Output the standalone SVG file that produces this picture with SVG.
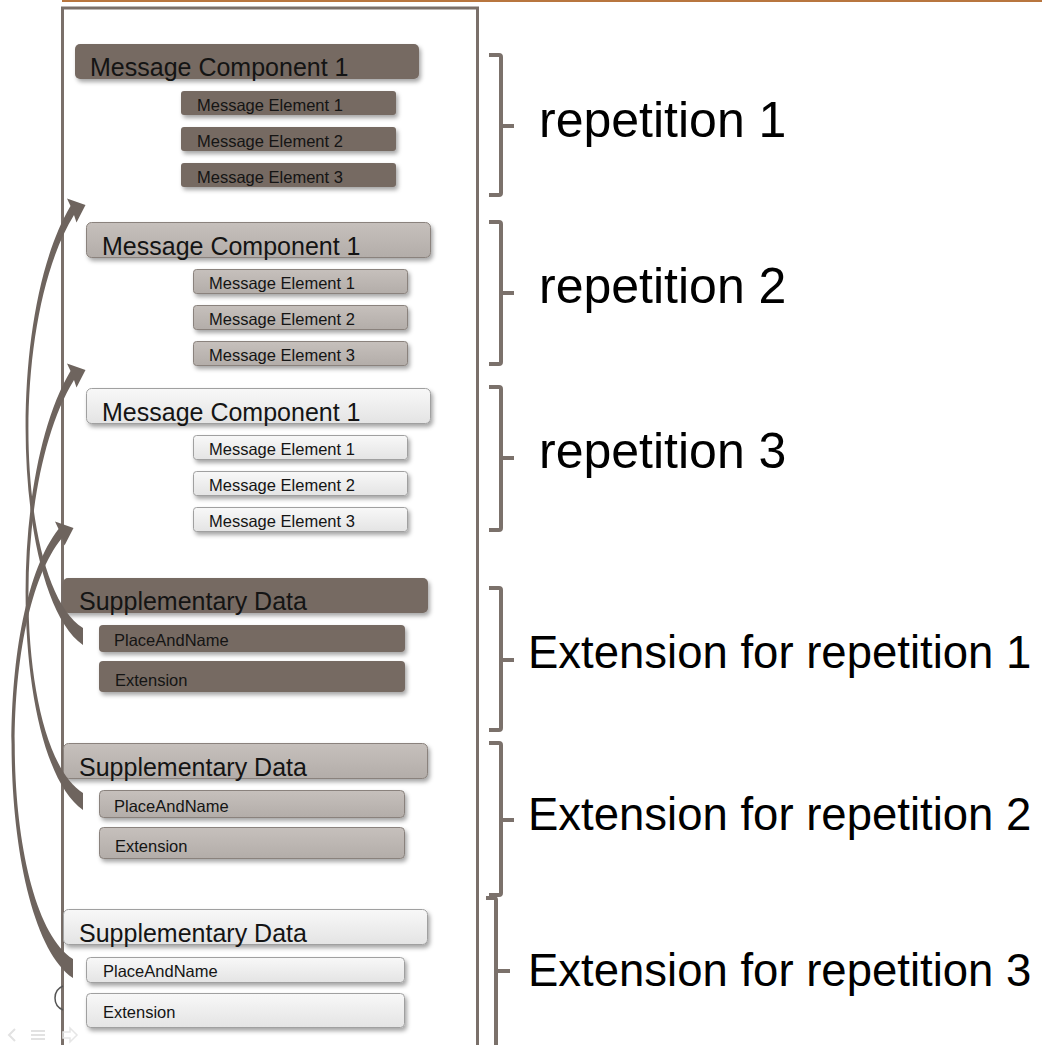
<svg xmlns="http://www.w3.org/2000/svg" width="1042" height="1045" viewBox="0 0 1042 1045">
<defs>
<style>
.dark{fill:#766a62;}
.mid{fill:url(#gMid);stroke:#8a827d;stroke-width:1;}
.light{fill:url(#gLight);stroke:#a0a0a0;stroke-width:1;}
.box{filter:url(#sh);}
.t25{font-family:"Liberation Sans",Arial,sans-serif;font-size:25px;fill:#141414;}
.t17{font-family:"Liberation Sans",Arial,sans-serif;font-size:16.5px;fill:#141414;}
.t50{font-family:"Liberation Sans",Arial,sans-serif;font-size:50px;fill:#000;}
.t46{font-family:"Liberation Sans",Arial,sans-serif;font-size:45.5px;fill:#000;}
.br{fill:none;stroke:#7b716b;stroke-width:4;stroke-linejoin:round;stroke-linecap:butt;}
.arr{fill:#6e645e;}
</style>
<linearGradient id="gMid" x1="0" y1="0" x2="0" y2="1">
<stop offset="0" stop-color="#c6c0bc"/><stop offset="1" stop-color="#b3ada9"/>
</linearGradient>
<linearGradient id="gLight" x1="0" y1="0" x2="0" y2="1">
<stop offset="0" stop-color="#f8f8f8"/><stop offset="1" stop-color="#e4e4e4"/>
</linearGradient>
<filter id="sh" x="-10%" y="-30%" width="120%" height="170%">
<feDropShadow dx="2" dy="3" stdDeviation="2" flood-color="#000" flood-opacity="0.35"/>
</filter>
</defs>
<rect width="1042" height="1045" fill="#ffffff"/>
<line x1="62" y1="1" x2="1042" y2="1" stroke="#b8763f" stroke-width="2"/>

<g id="frame">
<rect x="62.5" y="8" width="415" height="1060" fill="#ffffff" stroke="#7a706a" stroke-width="3"/>
</g>

<g id="artifacts" fill="none">
<path d="M63,986 A13,13 0 0 0 63,1010" stroke="#555" stroke-width="1.5"/>
<path d="M15,1029 L9,1035 L15,1041" stroke="#e2e2e2" stroke-width="2"/>
<path d="M31,1031 H45 M31,1035 H45 M31,1039 H45" stroke="#e2e2e2" stroke-width="2"/>
<path d="M63,1032 H70 V1028 L77,1035 L70,1042 V1038 H63 Z" stroke="#e6e6e6" stroke-width="1.5"/>
</g>

<g id="rep1">
<rect class="dark box" x="75" y="44" width="344" height="35" rx="5"/>
<text class="t25" x="90" y="76">Message Component 1</text>
<rect class="dark box" x="181" y="91" width="215" height="24" rx="3"/>
<text class="t17" x="197" y="111">Message Element 1</text>
<rect class="dark box" x="181" y="127" width="215" height="24" rx="3"/>
<text class="t17" x="197" y="147">Message Element 2</text>
<rect class="dark box" x="181" y="163" width="215" height="24" rx="3"/>
<text class="t17" x="197" y="183">Message Element 3</text>
</g>

<g id="rep2">
<rect class="mid box" x="86.5" y="222.5" width="344" height="35" rx="5"/>
<text class="t25" x="102" y="255">Message Component 1</text>
<rect class="mid box" x="193.5" y="269.5" width="214" height="24" rx="3"/>
<text class="t17" x="209" y="289">Message Element 1</text>
<rect class="mid box" x="193.5" y="305.5" width="214" height="24" rx="3"/>
<text class="t17" x="209" y="325">Message Element 2</text>
<rect class="mid box" x="193.5" y="341.5" width="214" height="24" rx="3"/>
<text class="t17" x="209" y="361">Message Element 3</text>
</g>

<g id="rep3">
<rect class="light box" x="86.5" y="388.5" width="344" height="35" rx="5"/>
<text class="t25" x="102" y="421">Message Component 1</text>
<rect class="light box" x="193.5" y="435.5" width="214" height="24" rx="3"/>
<text class="t17" x="209" y="455">Message Element 1</text>
<rect class="light box" x="193.5" y="471.5" width="214" height="24" rx="3"/>
<text class="t17" x="209" y="491">Message Element 2</text>
<rect class="light box" x="193.5" y="507.5" width="214" height="24" rx="3"/>
<text class="t17" x="209" y="527">Message Element 3</text>
</g>

<g id="supp1">
<rect class="dark box" x="63" y="578" width="365" height="35" rx="5"/>
<text class="t25" x="79" y="610">Supplementary Data</text>
<rect class="dark box" x="99" y="625" width="306" height="27" rx="4"/>
<text class="t17" x="114" y="646">PlaceAndName</text>
<rect class="dark box" x="99" y="661" width="306" height="31" rx="4"/>
<text class="t17" x="115" y="686">Extension</text>
</g>

<g id="supp2">
<rect class="mid box" x="63.5" y="743.5" width="364" height="35" rx="5"/>
<text class="t25" x="79" y="776">Supplementary Data</text>
<rect class="mid box" x="99.5" y="790.5" width="305" height="27" rx="4"/>
<text class="t17" x="114" y="812">PlaceAndName</text>
<rect class="mid box" x="99.5" y="827.5" width="305" height="31" rx="4"/>
<text class="t17" x="115" y="852">Extension</text>
</g>

<g id="supp3">
<rect class="light box" x="63.5" y="909.5" width="364" height="35" rx="5"/>
<text class="t25" x="79" y="942">Supplementary Data</text>
<rect class="light box" x="86.5" y="957.5" width="318" height="25" rx="4"/>
<text class="t17" x="103" y="977">PlaceAndName</text>
<rect class="light box" x="86.5" y="993.5" width="318" height="34" rx="4"/>
<text class="t17" x="103" y="1018">Extension</text>
</g>

<g id="connectors">
<path class="arr" d="M83,645 C14,597 4,318 70.5,206 L67,198.5 L85.5,205 L76.5,222.5 L74,215 C8,322 16,586 83,628 Z"/>
<path class="arr" transform="translate(0,165)" d="M83,645 C14,597 4,318 70.5,206 L67,198.5 L85.5,205 L76.5,222.5 L74,215 C8,322 16,586 83,628 Z"/>
<path class="arr" d="M73,978 C-1,928 -11,618 58.5,529 L55,521.5 L73.5,528 L64.5,545.5 L62,538 C-7,622 2,914 73,959 Z"/>
</g>

<g id="brackets">
<path class="br" d="M489,55 H499 Q501,55 501,57 V193 Q501,195 499,195 H489 M501,126 H514"/>
<path class="br" d="M489,222 H499 Q501,222 501,224 V362 Q501,364 499,364 H489 M501,293 H514"/>
<path class="br" d="M489,387 H499 Q501,387 501,389 V528 Q501,530 499,530 H489 M501,458 H514"/>
<path class="br" d="M489,588 H499 Q501,588 501,590 V728 Q501,730 499,730 H489 M501,660 H514"/>
<path class="br" d="M489,743 H499 Q501,743 501,745 V893 Q501,895 499,895 H489 M501,820 H514"/>
<path class="br" d="M486,898 H494 Q496,898 496,900 V1050 M496,971 H510"/>
</g>

<g id="labels">
<text class="t50" x="539" y="137">repetition 1</text>
<text class="t50" x="539" y="303">repetition 2</text>
<text class="t50" x="539" y="468">repetition 3</text>
<text class="t46" x="528" y="668">Extension for repetition 1</text>
<text class="t46" x="528" y="830">Extension for repetition 2</text>
<text class="t46" x="528" y="986">Extension for repetition 3</text>
</g>
</svg>
